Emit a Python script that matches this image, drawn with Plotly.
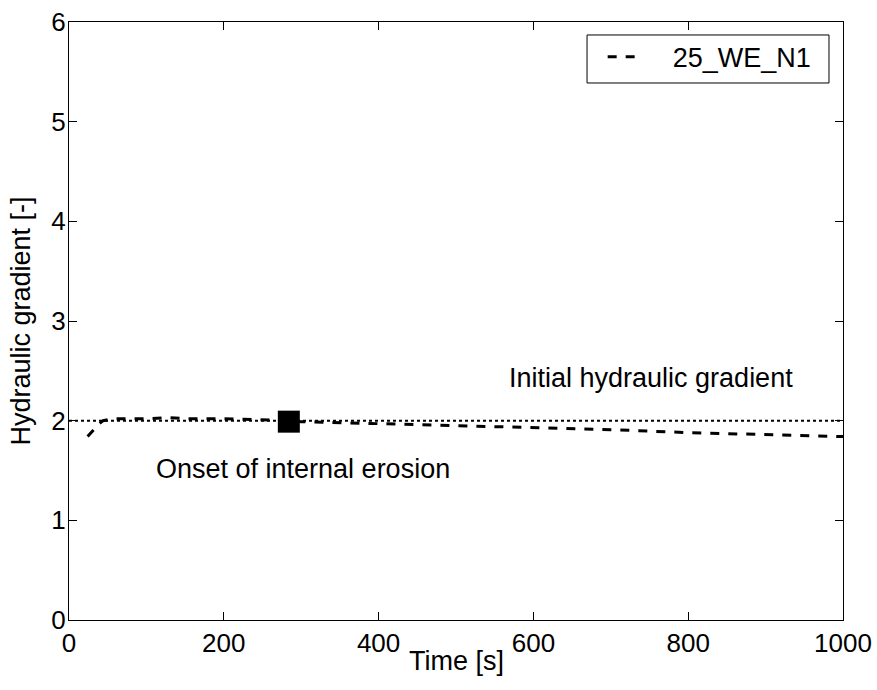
import plotly.graph_objects as go

time_s = [24, 28, 32, 36, 40, 44, 50, 60, 80, 100, 130, 150, 200, 250, 284, 300, 350, 400, 500, 600, 700, 800, 900, 1000]
gradient = [1.84, 1.87, 1.91, 1.95, 1.98, 2.00, 2.01, 2.02, 2.02, 2.02, 2.03, 2.02, 2.02, 2.01, 2.00, 1.99, 1.98, 1.97, 1.95, 1.93, 1.91, 1.88, 1.86, 1.84]
initial_gradient = 2.0
onset_time = 284
onset_value = 1.99
series_name = "25_WE_N1"

FS = 27
fig = go.Figure()
fig.add_trace(go.Scatter(x=[0, 1000], y=[initial_gradient, initial_gradient], mode="lines",
                         line=dict(color="black", width=2, dash="dot"), showlegend=False))
fig.add_trace(go.Scatter(x=time_s, y=gradient, mode="lines", name="\u00a0\u00a0\u00a0\u00a0" + series_name,
                         line=dict(color="black", width=3, dash="dash")))
fig.add_trace(go.Scatter(x=[onset_time], y=[onset_value], mode="markers", showlegend=False,
                         marker=dict(symbol="square", size=22, color="black")))

fig.add_annotation(x=752, y=2.43, text="Initial hydraulic gradient", showarrow=False,
                   font=dict(size=FS, color="black"), xanchor="center", yanchor="middle")
fig.add_annotation(x=302, y=1.52, text="Onset of internal erosion", showarrow=False,
                   font=dict(size=FS, color="black"), xanchor="center", yanchor="middle")
fig.add_annotation(x=0.5, y=-0.069, xref="paper", yref="paper", text="Time [s]", showarrow=False,
                   font=dict(size=FS, color="black"), xanchor="center", yanchor="middle")

# legend frame
fig.add_shape(type="rect", xref="paper", yref="paper", x0=0.6693, x1=0.9819, y0=0.898, y1=0.9783,
              line=dict(color="black", width=1), fillcolor="rgba(0,0,0,0)", layer="above")

axis_common = dict(showgrid=False, zeroline=False, showline=True, linecolor="black", linewidth=1,
                   mirror="ticks", ticks="inside", ticklen=8, tickcolor="black",
                   tickfont=dict(size=26, color="black"))
fig.update_xaxes(range=[0, 1000], tickvals=[0, 200, 400, 600, 800, 1000], **axis_common)
fig.update_yaxes(range=[0, 6], tickvals=[0, 1, 2, 3, 4, 5, 6], ticklabelstandoff=-3,
                 title=dict(text="Hydraulic gradient [-]", font=dict(size=FS, color="black"), standoff=12), **axis_common)

fig.update_layout(width=877, height=690, margin=dict(l=69, r=34, t=22, b=70, autoexpand=False),
                  plot_bgcolor="white", paper_bgcolor="white",
                  font=dict(family="Liberation Sans, Arial, sans-serif", color="black"),
                  legend=dict(x=0.6895, y=0.982, xanchor="left", yanchor="top", borderwidth=0,
                              bgcolor="rgba(0,0,0,0)", font=dict(size=FS)))
fig.write_html("out.html")
